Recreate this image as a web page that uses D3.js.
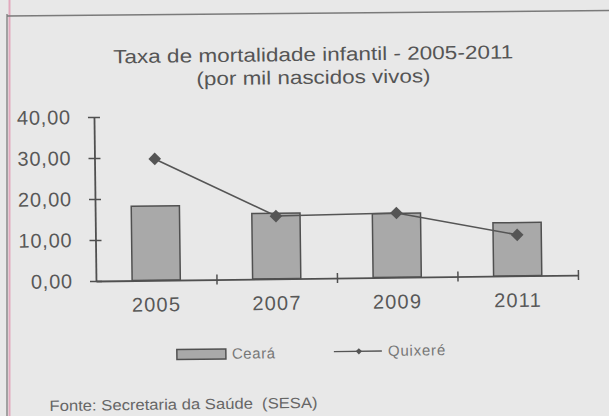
<!DOCTYPE html>
<html>
<head>
<meta charset="utf-8">
<script src="https://cdn.jsdelivr.net/npm/d3@7"></script>
<style>
  body { margin: 0; background: #e8e8e8; }
  svg { display: block; font-family: "Liberation Sans", Arial, sans-serif; }
</style>
</head>
<body>
<div id="chart"></div>
<script>
// dados
var anos = ["2005", "2007", "2009", "2011"];
var ceara = [18.1, 16.0, 15.6, 13.0];
var quixere = [29.6, 15.3, 15.7, 10.0];
var yTicks = [0, 10, 20, 30, 40];
var titulo = ["Taxa de mortalidade infantil - 2005-2011", "(por mil nascidos vivos)"];
var fonte = "Fonte: Secretaria da Saúde  (SESA)";

var width = 609, height = 416;
var margin = {top: 114.5, left: 95, right: 32, bottom: 137.5};
var w = width - margin.left - margin.right,
    h = height - margin.top - margin.bottom;

var svg = d3.select("#chart").append("svg")
    .attr("width", width)
    .attr("height", height);

svg.append("rect").attr("width", width).attr("height", height).attr("fill", "#e8e8e8");

// moldura (borda esquerda e linha de cima)
svg.append("line").attr("x1", 7).attr("x2", 7).attr("y1", 14).attr("y2", height)
    .attr("stroke", "#8a8a8a").attr("stroke-width", 1.5);
svg.append("line").attr("x1", 9.5).attr("x2", 9.5).attr("y1", 0).attr("y2", height)
    .attr("stroke", "#e2a9bd").attr("stroke-width", 2);
svg.append("line").attr("x1", 7).attr("x2", width).attr("y1", 16).attr("y2", 10.5)
    .attr("stroke", "#7a7a7a").attr("stroke-width", 1.5);

// a digitalizacao esta levemente girada
var page = svg.append("g").attr("transform", "rotate(-0.7, 300, 200)");

page.selectAll(".titulo")
    .data(titulo)
    .enter().append("text")
    .attr("class", "titulo")
    .attr("x", 315)
    .attr("y", (d, i) => 61 + i * 23)
    .attr("text-anchor", "middle")
    .attr("textLength", (d, i) => i == 0 ? 400 : 234)
    .attr("lengthAdjust", "spacingAndGlyphs")
    .style("font-size", "19px")
    .style("fill", "#555")
    .text(d => d);

var g = page.append("g")
    .attr("transform", "translate(" + margin.left + "," + margin.top + ")");

var x = d3.scaleBand().domain(anos).range([0, w]).paddingInner(0.6).paddingOuter(0.3);
var xEdge = d3.scaleLinear().domain([0, anos.length]).range([0, w]);
var y = d3.scaleLinear().domain([0, 40]).range([h, 0]);

var fmt = d3.formatLocale({decimal: ",", thousands: ".", grouping: [3], currency: ["R$", ""]}).format(".2f");

// barras Ceara
g.selectAll(".bar")
    .data(ceara)
    .enter().append("rect")
    .attr("class", "bar")
    .attr("x", (d, i) => x(anos[i]))
    .attr("y", d => y(d))
    .attr("width", x.bandwidth())
    .attr("height", d => h - y(d))
    .attr("fill", "#a9a9a9")
    .attr("stroke", "#505050")
    .attr("stroke-width", 1.5);

// eixo Y
g.append("g")
    .call(d3.axisLeft(y).tickValues(yTicks).tickFormat(fmt).tickSizeInner(6).tickSizeOuter(0).tickPadding(17))
    .call(a => a.select(".domain").attr("stroke", "#505050").attr("stroke-width", 1.8))
    .call(a => a.selectAll(".tick line").attr("x1", 6).attr("stroke", "#505050").attr("stroke-width", 1.5))
    .call(a => a.selectAll(".tick text").style("font-size", "20px").style("letter-spacing", "0.8px").attr("fill", "#585858"));

// eixo X (linha e marcas entre categorias)
g.append("g")
    .attr("transform", "translate(0," + h + ")")
    .call(d3.axisBottom(xEdge).tickValues([1, 2, 3, 4]).tickFormat("").tickSizeOuter(0).tickSizeInner(5))
    .call(a => a.select(".domain").attr("stroke", "#505050").attr("stroke-width", 1.8))
    .call(a => a.selectAll(".tick line").attr("y1", -5).attr("stroke", "#505050").attr("stroke-width", 1.5));

g.append("g")
    .attr("transform", "translate(0," + h + ")")
    .call(d3.axisBottom(x).tickSize(0).tickPadding(17))
    .call(a => a.select(".domain").remove())
    .call(a => a.selectAll(".tick text").style("font-size", "20px").style("letter-spacing", "1.2px").attr("fill", "#585858"));

// linha Quixere
var line = d3.line()
    .x((d, i) => x(anos[i]) + x.bandwidth() / 2)
    .y(d => y(d));

g.append("path")
    .datum(quixere)
    .attr("d", line)
    .attr("fill", "none")
    .attr("stroke", "#555")
    .attr("stroke-width", 1.6);

var diamond = d3.symbol().type(d3.symbolSquare).size(80);
g.selectAll(".ponto")
    .data(quixere)
    .enter().append("path")
    .attr("class", "ponto")
    .attr("d", diamond)
    .attr("transform", (d, i) => "translate(" + (x(anos[i]) + x.bandwidth() / 2) + "," + y(d) + ") rotate(45)")
    .attr("fill", "#555");

// legenda
var leg = page.append("g");
leg.append("rect")
    .attr("x", 175).attr("y", 348).attr("width", 49).attr("height", 10)
    .attr("fill", "#a9a9a9").attr("stroke", "#505050").attr("stroke-width", 1.5);
leg.append("text")
    .attr("x", 230).attr("y", 358)
    .style("font-size", "15px").style("letter-spacing", "0.6px").attr("fill", "#777")
    .text("Ceará");
leg.append("line")
    .attr("x1", 332).attr("x2", 380).attr("y1", 352).attr("y2", 352)
    .attr("stroke", "#555").attr("stroke-width", 1.4);
leg.append("path")
    .attr("d", d3.symbol().type(d3.symbolSquare).size(20))
    .attr("transform", "translate(357,352) rotate(45)")
    .attr("fill", "#555");
leg.append("text")
    .attr("x", 386).attr("y", 357)
    .style("font-size", "15px").style("letter-spacing", "0.8px").attr("fill", "#777")
    .text("Quixeré");

// fonte
page.append("text")
    .attr("x", 47).attr("y", 408)
    .attr("textLength", 268)
    .attr("lengthAdjust", "spacingAndGlyphs")
    .style("font-size", "15px")
    .style("white-space", "pre")
    .attr("fill", "#666")
    .text(fonte);
</script>
</body>
</html>
